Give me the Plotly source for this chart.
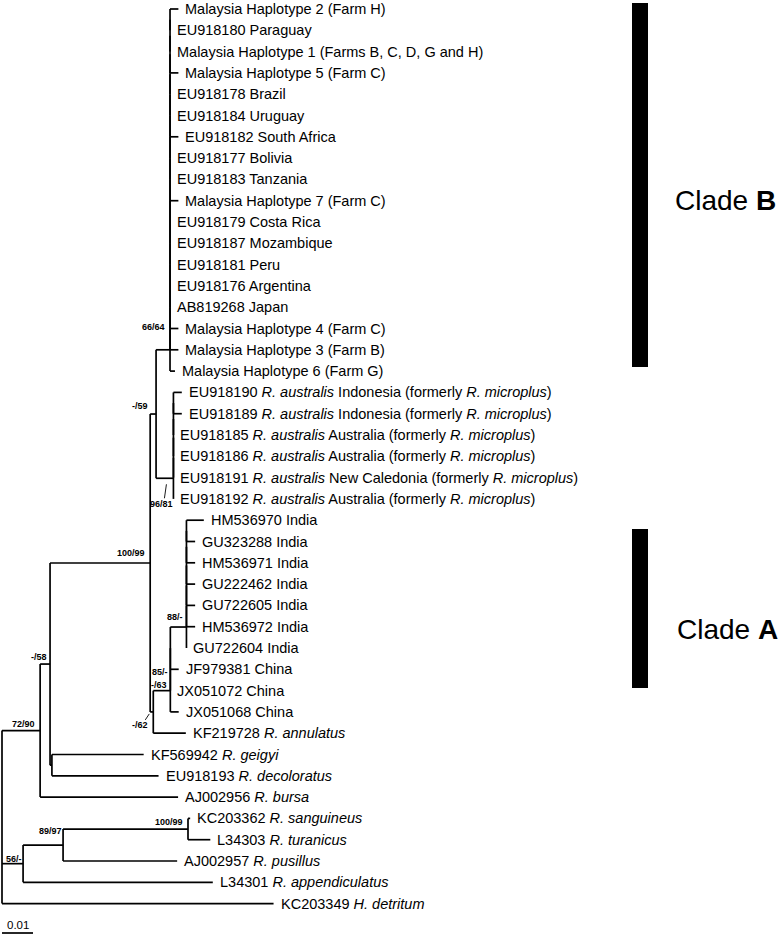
import plotly.graph_objects as go

# ---------------- data ----------------
LEAF_LABELS = [
    "Malaysia Haplotype 2 (Farm H)",
    "EU918180 Paraguay",
    "Malaysia Haplotype 1 (Farms B, C, D, G and H)",
    "Malaysia Haplotype 5 (Farm C)",
    "EU918178 Brazil",
    "EU918184 Uruguay",
    "EU918182 South Africa",
    "EU918177 Bolivia",
    "EU918183 Tanzania",
    "Malaysia Haplotype 7 (Farm C)",
    "EU918179 Costa Rica",
    "EU918187 Mozambique",
    "EU918181 Peru",
    "EU918176 Argentina",
    "AB819268 Japan",
    "Malaysia Haplotype 4 (Farm C)",
    "Malaysia Haplotype 3 (Farm B)",
    "Malaysia Haplotype 6 (Farm G)",
    "EU918190 <i>R. australis</i> Indonesia (formerly <i>R. microplus</i>)",
    "EU918189 <i>R. australis</i> Indonesia (formerly <i>R. microplus</i>)",
    "EU918185 <i>R. australis</i> Australia (formerly <i>R. microplus</i>)",
    "EU918186 <i>R. australis</i> Australia (formerly <i>R. microplus</i>)",
    "EU918191 <i>R. australis</i> New Caledonia (formerly <i>R. microplus</i>)",
    "EU918192 <i>R. australis</i> Australia (formerly <i>R. microplus</i>)",
    "HM536970 India",
    "GU323288 India",
    "HM536971 India",
    "GU222462 India",
    "GU722605 India",
    "HM536972 India",
    "GU722604 India",
    "JF979381 China",
    "JX051072 China",
    "JX051068 China",
    "KF219728 <i>R. annulatus</i>",
    "KF569942 <i>R. geigyi</i>",
    "EU918193 <i>R. decoloratus</i>",
    "AJ002956 <i>R. bursa</i>",
    "KC203362 <i>R. sanguineus</i>",
    "L34303 <i>R. turanicus</i>",
    "AJ002957 <i>R. pusillus</i>",
    "L34301 <i>R. appendiculatus</i>",
    "KC203349 <i>H. detritum</i>",
]

# terminal branch lengths (substitutions/site)
TIP_LENGTHS = [
    0.0027, 0.0, 0.0, 0.0027, 0.0, 0.0, 0.0027, 0.0, 0.0, 0.0027,
    0.0, 0.0, 0.0, 0.0, 0.0, 0.0027, 0.0027, 0.0016,
    0.0027, 0.0027, 0.0, 0.0, 0.0, 0.0,
    0.0056, 0.0028, 0.0028, 0.0028, 0.0028, 0.0028, 0.0,
    0.0027, 0.0, 0.0027,
    0.0105, 0.0296, 0.0344, 0.0445, 0.0007, 0.0072, 0.0368, 0.0612, 0.0876,
]

# internal nodes
NODE_IDS = ["B", "AUS", "N59", "IND", "IC1", "IC2", "IC", "ICA", "BOO",
            "GD", "N58", "N72", "N100", "N89", "N56", "ROOT"]
NODE_CHILDREN = [
    list(range(0, 18)), list(range(18, 24)), ["B", "AUS"], list(range(24, 31)),
    ["IND", 31], ["IC1", 32], ["IC2", 33], ["IC", 34], ["N59", "ICA"],
    [35, 36], ["BOO", "GD"], ["N58", 37], [38, 39], ["N100", 40], ["N89", 41],
    ["N72", "N56", 42],
]
NODE_LENGTHS = [0.0045, 0.0056, 0.0019, 0.0052, 0.0, 0.0, 0.0055, 0.0010, 0.0323,
                0.0006, 0.0032, 0.0123, 0.0403, 0.0129, 0.0068, 0.0]
NODE_SUPPORT = ["66/64", "96/81", "-/59", "88/-", "", "85/-", "-/63", "-/62", "100/99",
                "", "-/58", "72/90", "100/99", "89/97", "56/-", ""]
# polytomies resolved as zero-length ladders (as drawn by the tree program)
LADDER_NODES = ["B", "AUS", "IND"]

CLADE_NAMES = ["Clade <b>B</b>", "Clade <b>A</b>"]
SCALE_LENGTH = 0.01
SCALE_LABEL = "0.01"

# ---------------- layout constants ----------------
W, H = 778, 936
PX = 3100.0           # pixels per substitution unit
ROW = 21.3            # pixels per leaf row
X0_PX = 2             # root pixel x
Y0_PX = 9             # first leaf pixel y
LABEL_GAP = 7
FONT = "Liberation Sans, Arial, Helvetica, sans-serif"

# support label nudges: (dx px of right edge from node, dy px of centre from node)
SUP_POS = {
    "B": (-5, -23), "AUS": (0, 26), "N59": (-8, -8), "IND": (-3, -10),
    "IC2": (-2, 3), "IC": (-3, -6), "ICA": (-5, 13), "BOO": (-5, -10),
    "N58": (-3, -7), "N72": (-5, -7), "N100": (-5, -7), "N89": (-1, -14),
    "N56": (-1, -5),
}
# leader lines (from, to) relative to node in px
LEADERS = {"AUS": ((-9, 20), (-7, 6)), "ICA": ((-8, 8), (-4, 2))}

CLADE_BAR_PX = [(632, 648), (632, 648)]
CLADE_BAR_ROWS = [(-0.28, 16.81), (24.41, 31.88)]
CLADE_LABEL_ROWS = [8.97, 29.15]
CLADE_LABEL_XPX = [675, 677]

# ---------------- build tree ----------------
nodes = {}
for nid, ch, bl, sup in zip(NODE_IDS, NODE_CHILDREN, NODE_LENGTHS, NODE_SUPPORT):
    if nid in LADDER_NODES:
        cur = ch[0]
        rest = ch[1:]
        for k, c in enumerate(rest):
            last = k == len(rest) - 1
            name = nid if last else f"{nid}_{k}"
            nodes[name] = dict(children=[cur, c], bl=bl if last else 0.0,
                               support=sup if last else "")
            cur = name
    else:
        nodes[nid] = dict(children=ch, bl=bl, support=sup)

X, Y = {}, {}


def place(n, xparent):
    if isinstance(n, int):
        X[n] = xparent + TIP_LENGTHS[n]
        Y[n] = n
        return
    nd = nodes[n]
    X[n] = xparent + nd["bl"]
    for c in nd["children"]:
        place(c, X[n])
    Y[n] = (Y[nd["children"][0]] + Y[nd["children"][-1]]) / 2.0


place("ROOT", 0.0)

xs, ys = [], []
for n, nd in nodes.items():
    cy = [Y[c] for c in nd["children"]]
    xs += [X[n], X[n], None]
    ys += [min(cy), max(cy), None]
    for c in nd["children"]:
        xs += [X[n], X[c], None]
        ys += [Y[c], Y[c], None]

fig = go.Figure()
fig.add_trace(go.Scatter(x=xs, y=ys, mode="lines",
                         line=dict(color="black", width=1.7),
                         hoverinfo="skip", showlegend=False))

ux = 1.0 / PX
uy = 1.0 / ROW
ann = []
for i, lab in enumerate(LEAF_LABELS):
    ann.append(dict(x=X[i] + LABEL_GAP * ux, y=i, text=lab, showarrow=False,
                    xanchor="left", yanchor="middle", borderpad=0, borderwidth=0,
                    font=dict(family=FONT, size=14.5, color="black")))

for n, nd in nodes.items():
    if not nd["support"]:
        continue
    dx, dy = SUP_POS.get(n, (-4, -8))
    ann.append(dict(x=X[n] + dx * ux, y=Y[n] + dy * uy, text="<b>%s</b>" % nd["support"],
                    showarrow=False, xanchor="right", yanchor="middle",
                    borderpad=0, borderwidth=0,
                    font=dict(family=FONT, size=9, color="black")))
    if n in LEADERS:
        (ax, ay), (bx, by) = LEADERS[n]
        fig.add_trace(go.Scatter(x=[X[n] + ax * ux, X[n] + bx * ux],
                                 y=[Y[n] + ay * uy, Y[n] + by * uy], mode="lines",
                                 line=dict(color="black", width=0.9),
                                 hoverinfo="skip", showlegend=False))

# scale bar
sb_y = (933 - Y0_PX) / ROW
fig.add_trace(go.Scatter(x=[0, SCALE_LENGTH], y=[sb_y, sb_y], mode="lines",
                         line=dict(color="black", width=1.7),
                         hoverinfo="skip", showlegend=False))
ann.append(dict(x=SCALE_LENGTH / 2, y=sb_y - 2 * uy, text=SCALE_LABEL, showarrow=False,
                xanchor="center", yanchor="bottom", borderpad=0, borderwidth=0,
                font=dict(family=FONT, size=11.5, color="black")))

shapes = []
for name, (bx0, bx1), (r0, r1), ly, lx in zip(CLADE_NAMES, CLADE_BAR_PX, CLADE_BAR_ROWS,
                                              CLADE_LABEL_ROWS, CLADE_LABEL_XPX):
    shapes.append(dict(type="rect", xref="paper", yref="y", x0=bx0 / W, x1=bx1 / W,
                       y0=r0, y1=r1, fillcolor="black", line=dict(width=0)))
    ann.append(dict(x=lx / W, xref="paper", y=ly, text=name, showarrow=False,
                    xanchor="left", yanchor="middle", borderpad=0, borderwidth=0,
                    font=dict(family=FONT, size=28, color="black")))

fig.update_layout(
    width=W, height=H, margin=dict(l=0, r=0, t=0, b=0, pad=0),
    paper_bgcolor="white", plot_bgcolor="white",
    xaxis=dict(range=[-X0_PX / PX, (W - X0_PX) / PX], visible=False, fixedrange=True),
    yaxis=dict(range=[(H - Y0_PX) / ROW, -Y0_PX / ROW], visible=False, fixedrange=True),
    annotations=ann, shapes=shapes, showlegend=False,
)

fig.write_html("out.html", config={"displayModeBar": False},
               post_script="document.body.style.margin='0';")
